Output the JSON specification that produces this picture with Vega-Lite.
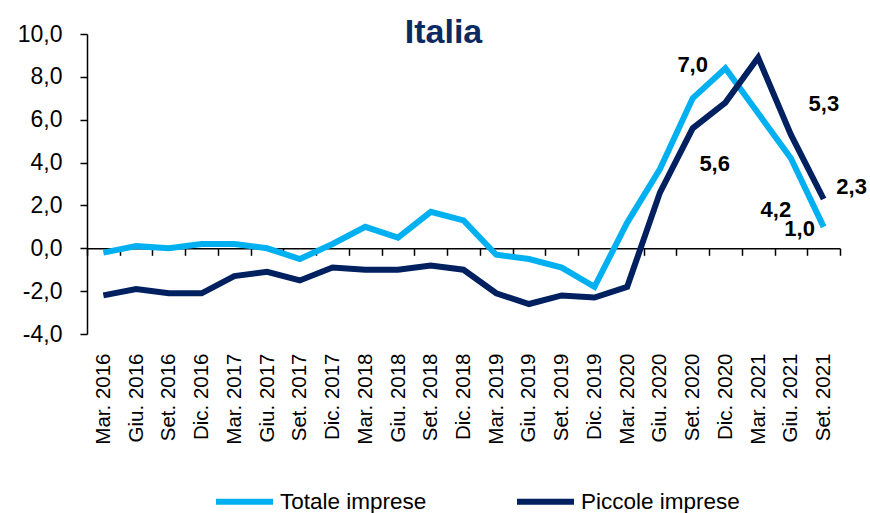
{
  "$schema": "https://vega.github.io/schema/vega-lite/v6.json",
  "autosize": "none",
  "width": 753,
  "height": 300,
  "padding": {"left": 87, "top": 34, "right": 30, "bottom": 179},
  "background": "white",
  "config": {"view": {"stroke": null}, "font": "Liberation Sans"},
  "title": {
    "text": "Italia",
    "font": "Liberation Sans",
    "fontSize": 34,
    "fontWeight": "bold",
    "color": "#0B2A62",
    "anchor": "middle",
    "frame": "group",
    "dx": -20,
    "baseline": "alphabetic",
    "offset": -54
  },
  "data": {
    "values": [
      {"period": "Mar. 2016", "series": "Totale imprese", "value": -0.2},
      {"period": "Giu. 2016", "series": "Totale imprese", "value": 0.1},
      {"period": "Set. 2016", "series": "Totale imprese", "value": 0.0},
      {"period": "Dic. 2016", "series": "Totale imprese", "value": 0.2},
      {"period": "Mar. 2017", "series": "Totale imprese", "value": 0.2},
      {"period": "Giu. 2017", "series": "Totale imprese", "value": 0.0},
      {"period": "Set. 2017", "series": "Totale imprese", "value": -0.5},
      {"period": "Dic. 2017", "series": "Totale imprese", "value": 0.2},
      {"period": "Mar. 2018", "series": "Totale imprese", "value": 1.0},
      {"period": "Giu. 2018", "series": "Totale imprese", "value": 0.5},
      {"period": "Set. 2018", "series": "Totale imprese", "value": 1.7},
      {"period": "Dic. 2018", "series": "Totale imprese", "value": 1.3},
      {"period": "Mar. 2019", "series": "Totale imprese", "value": -0.3},
      {"period": "Giu. 2019", "series": "Totale imprese", "value": -0.5},
      {"period": "Set. 2019", "series": "Totale imprese", "value": -0.9},
      {"period": "Dic. 2019", "series": "Totale imprese", "value": -1.8},
      {"period": "Mar. 2020", "series": "Totale imprese", "value": 1.2},
      {"period": "Giu. 2020", "series": "Totale imprese", "value": 3.7},
      {"period": "Set. 2020", "series": "Totale imprese", "value": 7.0},
      {"period": "Dic. 2020", "series": "Totale imprese", "value": 8.4},
      {"period": "Mar. 2021", "series": "Totale imprese", "value": 6.3},
      {"period": "Giu. 2021", "series": "Totale imprese", "value": 4.2},
      {"period": "Set. 2021", "series": "Totale imprese", "value": 1.0},
      {"period": "Mar. 2016", "series": "Piccole imprese", "value": -2.2},
      {"period": "Giu. 2016", "series": "Piccole imprese", "value": -1.9},
      {"period": "Set. 2016", "series": "Piccole imprese", "value": -2.1},
      {"period": "Dic. 2016", "series": "Piccole imprese", "value": -2.1},
      {"period": "Mar. 2017", "series": "Piccole imprese", "value": -1.3},
      {"period": "Giu. 2017", "series": "Piccole imprese", "value": -1.1},
      {"period": "Set. 2017", "series": "Piccole imprese", "value": -1.5},
      {"period": "Dic. 2017", "series": "Piccole imprese", "value": -0.9},
      {"period": "Mar. 2018", "series": "Piccole imprese", "value": -1.0},
      {"period": "Giu. 2018", "series": "Piccole imprese", "value": -1.0},
      {"period": "Set. 2018", "series": "Piccole imprese", "value": -0.8},
      {"period": "Dic. 2018", "series": "Piccole imprese", "value": -1.0},
      {"period": "Mar. 2019", "series": "Piccole imprese", "value": -2.1},
      {"period": "Giu. 2019", "series": "Piccole imprese", "value": -2.6},
      {"period": "Set. 2019", "series": "Piccole imprese", "value": -2.2},
      {"period": "Dic. 2019", "series": "Piccole imprese", "value": -2.3},
      {"period": "Mar. 2020", "series": "Piccole imprese", "value": -1.8},
      {"period": "Giu. 2020", "series": "Piccole imprese", "value": 2.6},
      {"period": "Set. 2020", "series": "Piccole imprese", "value": 5.6},
      {"period": "Dic. 2020", "series": "Piccole imprese", "value": 6.8},
      {"period": "Mar. 2021", "series": "Piccole imprese", "value": 8.9},
      {"period": "Giu. 2021", "series": "Piccole imprese", "value": 5.3},
      {"period": "Set. 2021", "series": "Piccole imprese", "value": 2.3}
    ]
  },
  "transform": [
    {"calculate": "replace(format(datum.value, '.1f'), '.', ',')", "as": "lbl"}
  ],
  "encoding": {
    "x": {
      "field": "period",
      "type": "ordinal",
      "scale": {
        "type": "band",
        "paddingInner": 0,
        "paddingOuter": 0,
        "domain": ["Mar. 2016", "Giu. 2016", "Set. 2016", "Dic. 2016", "Mar. 2017", "Giu. 2017", "Set. 2017", "Dic. 2017", "Mar. 2018", "Giu. 2018", "Set. 2018", "Dic. 2018", "Mar. 2019", "Giu. 2019", "Set. 2019", "Dic. 2019", "Mar. 2020", "Giu. 2020", "Set. 2020", "Dic. 2020", "Mar. 2021", "Giu. 2021", "Set. 2021"]
      },
      "axis": {
        "title": null,
        "orient": "bottom",
        "offset": -85.7,
        "tickBand": "extent",
        "grid": false,
        "domainColor": "black",
        "domainWidth": 1.5,
        "tickColor": "black",
        "tickSize": 7,
        "tickWidth": 1.5,
        "labelAngle": -90,
        "labelFont": "Liberation Sans",
        "labelFontSize": 20.5,
        "labelColor": "black",
        "labelPadding": 97.7,
        "labelOverlap": false,
        "labelBound": false
      }
    },
    "y": {
      "field": "value",
      "type": "quantitative",
      "scale": {"domain": [-4, 10], "nice": false, "zero": false},
      "axis": {
        "title": null,
        "values": [-4, -2, 0, 2, 4, 6, 8, 10],
        "grid": false,
        "domainColor": "black",
        "domainWidth": 1.5,
        "tickColor": "black",
        "tickSize": 7,
        "tickWidth": 1.5,
        "labelFont": "Liberation Sans",
        "labelFontSize": 23,
        "labelColor": "black",
        "labelPadding": 18,
        "labelOverlap": false,
        "labelExpr": "replace(replace(format(datum.value, '.1f'), '.', ','), '\u2212', '-')"
      }
    }
  },
  "layer": [
    {
      "mark": {"type": "line", "strokeWidth": 6, "strokeJoin": "miter"},
      "encoding": {
        "color": {
          "field": "series",
          "type": "nominal",
          "scale": {"domain": ["Totale imprese", "Piccole imprese"], "range": ["#00B0F0", "#002060"]},
          "legend": {
            "title": null,
            "orient": "none",
            "legendX": 126,
            "legendY": 436,
            "direction": "horizontal",
            "symbolType": "stroke",
            "symbolSize": 3249,
            "symbolStrokeWidth": 6,
            "labelFont": "Liberation Sans",
            "labelFontSize": 22.5,
            "labelColor": "black",
            "labelOffset": 4,
            "columnPadding": 78,
            "labelLimit": 400,
            "padding": 0
          }
        }
      }
    },
    {
      "transform": [{"filter": "datum.series == 'Totale imprese' && datum.period == 'Set. 2020'"}],
      "mark": {"type": "text", "font": "Liberation Sans", "fontSize": 22, "fontWeight": "bold", "color": "black", "align": "center", "baseline": "middle", "dx": 0, "dy": -33},
      "encoding": {"text": {"field": "lbl"}}
    },
    {
      "transform": [{"filter": "datum.series == 'Piccole imprese' && datum.period == 'Set. 2020'"}],
      "mark": {"type": "text", "font": "Liberation Sans", "fontSize": 22, "fontWeight": "bold", "color": "black", "align": "center", "baseline": "middle", "dx": 22, "dy": 36},
      "encoding": {"text": {"field": "lbl"}}
    },
    {
      "transform": [{"filter": "datum.series == 'Piccole imprese' && datum.period == 'Giu. 2021'"}],
      "mark": {"type": "text", "font": "Liberation Sans", "fontSize": 22, "fontWeight": "bold", "color": "black", "align": "center", "baseline": "middle", "dx": 33, "dy": -31},
      "encoding": {"text": {"field": "lbl"}}
    },
    {
      "transform": [{"filter": "datum.series == 'Piccole imprese' && datum.period == 'Set. 2021'"}],
      "mark": {"type": "text", "font": "Liberation Sans", "fontSize": 22, "fontWeight": "bold", "color": "black", "align": "center", "baseline": "middle", "dx": 28, "dy": -12},
      "encoding": {"text": {"field": "lbl"}}
    },
    {
      "transform": [{"filter": "datum.series == 'Totale imprese' && datum.period == 'Giu. 2021'"}],
      "mark": {"type": "text", "font": "Liberation Sans", "fontSize": 22, "fontWeight": "bold", "color": "black", "align": "center", "baseline": "middle", "dx": -15, "dy": 52},
      "encoding": {"text": {"field": "lbl"}}
    },
    {
      "transform": [{"filter": "datum.series == 'Totale imprese' && datum.period == 'Set. 2021'"}],
      "mark": {"type": "text", "font": "Liberation Sans", "fontSize": 22, "fontWeight": "bold", "color": "black", "align": "center", "baseline": "middle", "dx": -24, "dy": 2},
      "encoding": {"text": {"field": "lbl"}}
    }
  ]
}
